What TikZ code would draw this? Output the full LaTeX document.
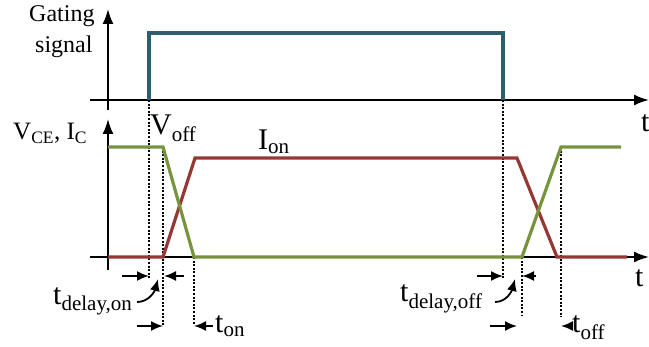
\documentclass[tikz,border=0pt]{standalone}
\usepackage{fontspec}
\setmainfont{Liberation Serif}
\usetikzlibrary{arrows.meta}
\definecolor{gtea}{HTML}{2E5E6E}
\definecolor{vgreen}{HTML}{77933C}
\definecolor{ired}{HTML}{953735}
\tikzset{
  axis/.style={line width=2pt,-{Latex[length=15pt,width=11pt]}},
  wave/.style={line width=3.2pt,line join=miter},
  guide/.style={line width=1.5pt,dash pattern=on 2pt off 1.6pt},
  dim/.style={line width=1.8pt,-{Latex[length=12pt,width=10pt]}},
  lab/.style={inner sep=0pt,anchor=base west,font=\fontsize{30}{36}\selectfont},
}
\begin{document}
\begin{tikzpicture}[x=1pt,y=-1pt]
\useasboundingbox (0,0) rectangle (649,347);
% axes top
\draw[axis] (108,110) -- (108,9);
\draw[axis] (90,100) -- (649,100);
% axes bottom
\draw[axis] (108,270) -- (108,119);
\draw[axis] (90,257) -- (649,257);
% guides
\draw[guide] (149,100) -- (149,278);
\draw[guide] (163,147) -- (163,325);
\draw[guide] (194,257) -- (194,325);
\draw[guide] (503,100) -- (503,278);
\draw[guide] (522,257) -- (522,315);
\draw[guide] (561,147) -- (561,317);
% gating pulse
\draw[wave,gtea] (149,100) -- (149,33) -- (503,33) -- (503,100);
% current
\draw[wave,ired] (108,257) -- (163,257) -- (195,158) -- (517,158) -- (557,257) -- (627,257);
% voltage
\draw[wave,vgreen] (108,147) -- (163,147) -- (194,257) -- (522,257) -- (561,147) -- (621,147);
% dimension arrows
\draw[dim] (122,276) -- (149,276);
\draw[dim] (184,276) -- (164,276);
\draw[dim] (137,326) -- (163,326);
\draw[dim] (213,326) -- (194,326);
\draw[dim] (477,276) -- (503,276);
\draw[dim] (536,276) -- (522,276);
\draw[dim] (490,326) -- (517,326);
\draw[dim] (573,326) -- (561,326);
\draw[dim] (137,302) to[out=0,in=-105] (158,279);
\draw[dim] (495,302) to[out=0,in=-105] (515,279);
% labels
\node[lab,font=\fontsize{24}{28}\selectfont] (g1) at (29,22) {Gating};
\node[lab,font=\fontsize{24}{28}\selectfont] (g2) at (35,53) {signal};
\node[lab,font=\fontsize{25}{30}\selectfont] (vi) at (13,140) {V\textsubscript{CE}, I\textsubscript{C}};
\node[lab] (voff) at (150,135) {V\textsubscript{off}};
\node[lab] (ion) at (258,150) {I\textsubscript{on}};
\node[lab] (t1) at (641,132) {t};
\node[lab] (t2) at (635,287) {t};
\node[lab] (tdon) at (53,305) {t\textsubscript{delay,on}};
\node[lab] (ton) at (215,333) {t\textsubscript{on}};
\node[lab] (tdoff) at (400,302) {t\textsubscript{delay,off}};
\node[lab] (toff) at (572,333) {t\textsubscript{off}};
\end{tikzpicture}
\end{document}
